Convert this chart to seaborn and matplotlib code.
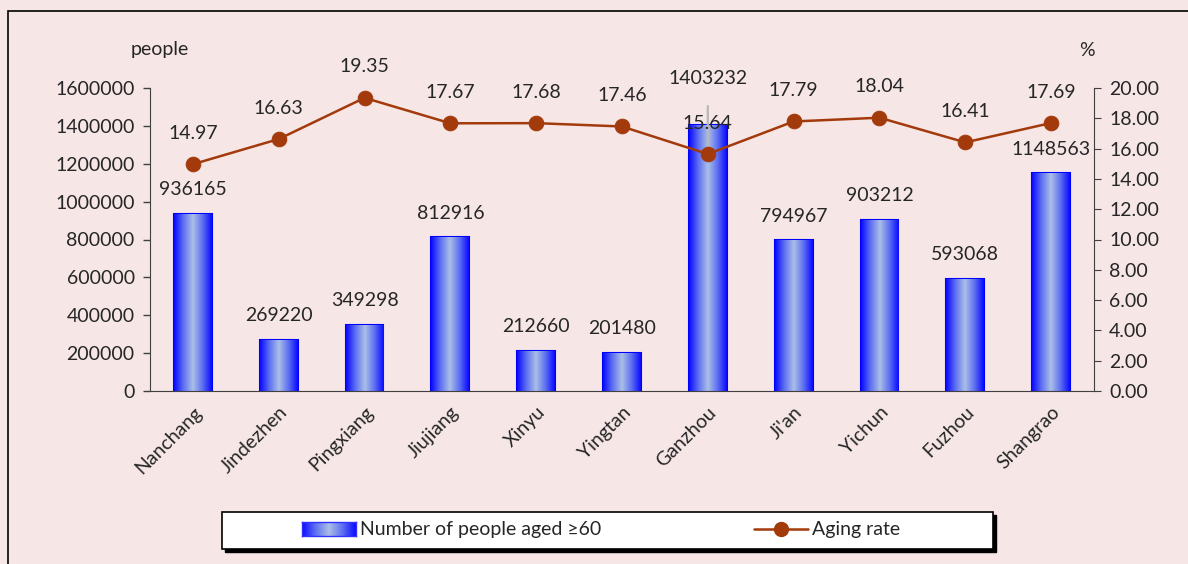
import numpy as np
import pandas as pd
import seaborn as sns
import matplotlib.pyplot as plt
from matplotlib.colors import LinearSegmentedColormap
from matplotlib.patches import Rectangle
from matplotlib.lines import Line2D

# Data
cities = ["Nanchang", "Jindezhen", "Pingxiang", "Jiujiang", "Xinyu", "Yingtan",
          "Ganzhou", "Ji'an", "Yichun", "Fuzhou", "Shangrao"]
elderly = [936165, 269220, 349298, 812916, 212660, 201480,
           1403232, 794967, 903212, 593068, 1148563]
aging_rate = [14.97, 16.63, 19.35, 17.67, 17.68, 17.46,
              15.64, 17.79, 18.04, 16.41, 17.69]

BG = "#f6e6e6"
LINE_C = "#a33a0c"
FS = 14

sns.set_style("white")
plt.rcParams['font.family'] = ['Lato', 'DejaVu Sans']

df = pd.DataFrame({"city": cities, "elderly": elderly, "rate": aging_rate})

W, H = 1188, 564
fig = plt.figure(figsize=(W / 100, H / 100), dpi=100, facecolor=BG)
ax = fig.add_axes([150 / W, 1 - 391 / H, 944 / W, 303 / H])
ax.set_facecolor(BG)

sns.barplot(data=df, x="city", y="elderly", ax=ax, width=0.44,
            color="#0000ff", edgecolor="#0000ff", linewidth=1.5, saturation=1)

# gradient fill inside the bars
cmap = LinearSegmentedColormap.from_list(
    "bar", ["#0a0aff", "#5f70f2", "#aabfe6", "#5f70f2", "#0a0aff"])
grad = np.linspace(0, 1, 256).reshape(1, -1)
for p in ax.patches:
    x0, w, h = p.get_x(), p.get_width(), p.get_height()
    im = ax.imshow(grad, extent=[x0, x0 + w, 0, h], aspect="auto", cmap=cmap,
                   origin="lower", zorder=p.get_zorder() + 0.1)
    im.set_clip_path(p)

ax.set_xlim(-0.5, len(cities) - 0.5)
ax.set_ylim(0, 1600000)
ax.set_yticks(range(0, 1600001, 200000))
ax.set_yticklabels([str(v) for v in range(0, 1600001, 200000)], fontsize=FS)
ax.set_xlabel("")
ax.set_ylabel("")
ax.set_xticks(range(len(cities)))
ax.set_xticklabels(cities, rotation=45, ha="right", rotation_mode="anchor", fontsize=FS)
ax.tick_params(axis="x", length=0, pad=9)
ax.set_xticks(np.arange(-0.5, len(cities), 1), minor=True)
ax.tick_params(axis="x", which="minor", length=5, direction="out", color="#404040")
ax.tick_params(axis="y", length=5, direction="out", color="#404040", width=1, pad=6)
for s in ["top", "right"]:
    ax.spines[s].set_visible(False)
ax.spines["left"].set_color("#404040")
ax.spines["bottom"].set_color("#404040")

for i, v in enumerate(elderly):
    if cities[i] == "Ganzhou":
        # label lifted above the line, with a leader line
        ax.annotate(str(v), xy=(i, 1256766), xytext=(i, 1647525),
                    textcoords="data", ha="center", va="center", fontsize=FS,
                    annotation_clip=False, zorder=6,
                    arrowprops=dict(arrowstyle="-", color="#b8b8b8", lw=1.6,
                                    shrinkA=11, shrinkB=0))
    else:
        ax.annotate(str(v), xy=(i, v), xytext=(0, 17.3), textcoords="offset points",
                    ha="center", va="center", fontsize=FS)

# aging rate on secondary axis
ax2 = ax.twinx()
sns.lineplot(data=df, x="city", y="rate", ax=ax2, color=LINE_C, lw=1.8,
             marker="o", markersize=10.5, markeredgecolor=LINE_C, sort=False)
ax2.set_ylim(0, 20)
ax2.set_yticks(np.arange(0, 20.01, 2))
ax2.set_yticklabels([f"{v:.2f}" for v in np.arange(0, 20.01, 2)], fontsize=FS)
ax2.set_ylabel("")
ax2.tick_params(axis="y", length=5, direction="out", color="#404040", pad=6)
for s in ["top", "left", "bottom"]:
    ax2.spines[s].set_visible(False)
ax2.spines["right"].set_color("#404040")
for i, r in enumerate(aging_rate):
    ax2.annotate(f"{r:.2f}", xy=(i, r), xytext=(0, 22.3), textcoords="offset points",
                 ha="center", va="center", fontsize=FS)

fig.text(160 / W, 1 - 49 / H, "people", ha="center", va="center", fontsize=FS)
fig.text(1087 / W, 1 - 50 / H, "%", ha="center", va="center", fontsize=FS)

# outer frame
fig.patches.append(Rectangle((8 / W, -0.1), 1.2, 1 - 11 / H + 0.1,
                             transform=fig.transFigure, fill=False, edgecolor="black", lw=1.2))

# legend box with a hard shadow
lx0, lx1, ly0, ly1 = 222, 993, 512, 549
fig.patches.append(Rectangle(((lx0 + 3) / W, 1 - (ly1 + 3) / H), (lx1 - lx0) / W, (ly1 - ly0) / H,
                             transform=fig.transFigure, facecolor="black", edgecolor="black", lw=1))
fig.patches.append(Rectangle((lx0 / W, 1 - ly1 / H), (lx1 - lx0) / W, (ly1 - ly0) / H,
                             transform=fig.transFigure, facecolor="white", edgecolor="black", lw=1.2))

h_bar = Rectangle((0, 0), 1, 1, facecolor="none", edgecolor="none")
h_line = Line2D([], [], color=LINE_C, lw=1.8, marker="o", markersize=10)
leg = fig.legend([h_bar, h_line], ["Number of people aged ≥60", "Aging rate"],
                 loc="center", bbox_to_anchor=(601 / W, 1 - 530 / H), ncol=2, fontsize=FS,
                 frameon=False, columnspacing=7.9, handlelength=2.75,
                 handletextpad=0.2, borderpad=0.2)

# gradient swatch for the bar legend entry
fig.canvas.draw()
bb = leg.legend_handles[0].get_window_extent()
sw = fig.add_axes([bb.x0 / W, (bb.y0 + bb.height / 2 - 7) / H, bb.width / W, 14 / H])
sw.set_zorder(10)
sw.imshow(grad, aspect="auto", cmap=cmap)
sw.set_xticks([])
sw.set_yticks([])
for s in sw.spines.values():
    s.set_color("#3030ff")
    s.set_linewidth(1)

fig.savefig("out.png", dpi=100, facecolor=BG)
